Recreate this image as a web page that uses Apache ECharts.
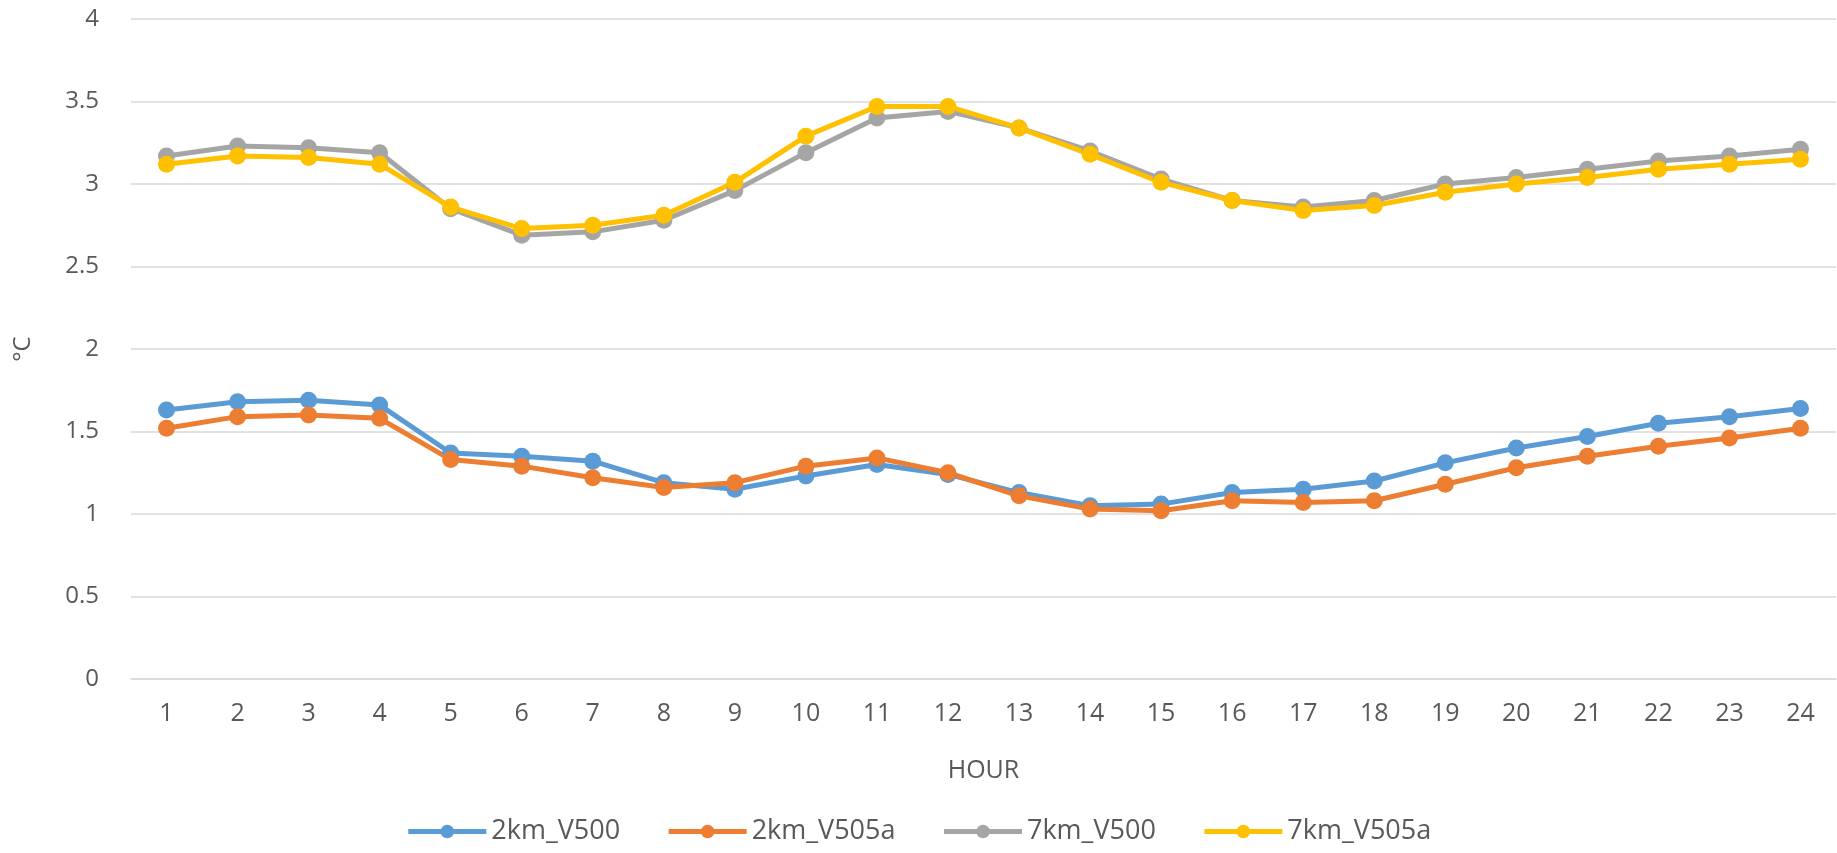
<!DOCTYPE html>
<html>
<head>
<meta charset="utf-8">
<script src="https://cdn.jsdelivr.net/npm/echarts@6/dist/echarts.min.js"></script>
<style>
  html, body { margin: 0; padding: 0; background: #fff; }
  #chart { width: 1837px; height: 853px; }
</style>
</head>
<body>
<div id="chart"></div>
<script>
const hours = ['1', '2', '3', '4', '5', '6', '7', '8', '9', '10', '11', '12',
  '13', '14', '15', '16', '17', '18', '19', '20', '21', '22', '23', '24']

const km2V500 = [1.63, 1.68, 1.69, 1.66, 1.37, 1.35, 1.32, 1.19, 1.15, 1.23, 1.30, 1.24,
  1.13, 1.05, 1.06, 1.13, 1.15, 1.20, 1.31, 1.40, 1.47, 1.55, 1.59, 1.64]
const km2V505a = [1.52, 1.59, 1.60, 1.58, 1.33, 1.29, 1.22, 1.16, 1.19, 1.29, 1.34, 1.25,
  1.11, 1.03, 1.02, 1.08, 1.07, 1.08, 1.18, 1.28, 1.35, 1.41, 1.46, 1.52]
const km7V500 = [3.17, 3.23, 3.22, 3.19, 2.85, 2.69, 2.71, 2.78, 2.96, 3.19, 3.40, 3.44,
  3.34, 3.20, 3.03, 2.90, 2.86, 2.90, 3.00, 3.04, 3.09, 3.14, 3.17, 3.21]
const km7V505a = [3.12, 3.17, 3.16, 3.12, 2.86, 2.73, 2.75, 2.81, 3.01, 3.29, 3.47, 3.47,
  3.34, 3.18, 3.01, 2.90, 2.84, 2.87, 2.95, 3.00, 3.04, 3.09, 3.12, 3.15]

const seriesNames = ['2km_V500', '2km_V505a', '7km_V500', '7km_V505a']
const colors = ['#5B9BD5', '#ED7D31', '#A5A5A5', '#FFC000']

const font = '"Open Sans", "Noto Sans", sans-serif'
const textColor = '#595959'

const makeLine = (name, data, color) => ({
  name: name,
  type: 'line',
  data: data,
  symbol: 'circle',
  symbolSize: 17,
  lineStyle: { width: 5, color: color },
  itemStyle: { color: color },
  emphasis: { disabled: true }
})

const chart = echarts.init(document.getElementById('chart'))

const option = {
  animation: false,
  color: colors,
  grid: {
    left: 131,
    right: 1,
    top: 19,
    bottom: 174,
    outerBoundsMode: 'none',
    containLabel: false
  },
  legend: {
    bottom: 3,
    left: 'center',
    itemWidth: 78,
    itemHeight: 17,
    itemGap: 46,
    lineStyle: { width: 5 },
    textStyle: { fontFamily: font, fontSize: 27, color: textColor },
    data: seriesNames
  },
  xAxis: {
    type: 'category',
    data: hours,
    name: 'HOUR',
    nameLocation: 'middle',
    nameGap: 79,
    nameTextStyle: { fontFamily: font, fontSize: 25, color: textColor },
    axisLine: { show: true, lineStyle: { color: '#D9D9D9', width: 1.5 } },
    axisTick: { show: false },
    axisLabel: { fontFamily: font, fontSize: 25, color: textColor, margin: 22 }
  },
  yAxis: {
    type: 'value',
    min: 0,
    max: 4,
    interval: 0.5,
    name: '°C',
    nameLocation: 'middle',
    nameRotate: 90,
    nameGap: 96,
    nameTextStyle: { fontFamily: font, fontSize: 24, color: textColor },
    axisLine: { show: false },
    axisTick: { show: false },
    axisLabel: { fontFamily: font, fontSize: 24, color: textColor, margin: 32 },
    splitLine: { lineStyle: { color: '#D9D9D9', width: 1.5 } }
  },
  series: [
    makeLine(seriesNames[0], km2V500, colors[0]),
    makeLine(seriesNames[1], km2V505a, colors[1]),
    makeLine(seriesNames[2], km7V500, colors[2]),
    makeLine(seriesNames[3], km7V505a, colors[3])
  ]
}

chart.setOption(option)
</script>
</body>
</html>
